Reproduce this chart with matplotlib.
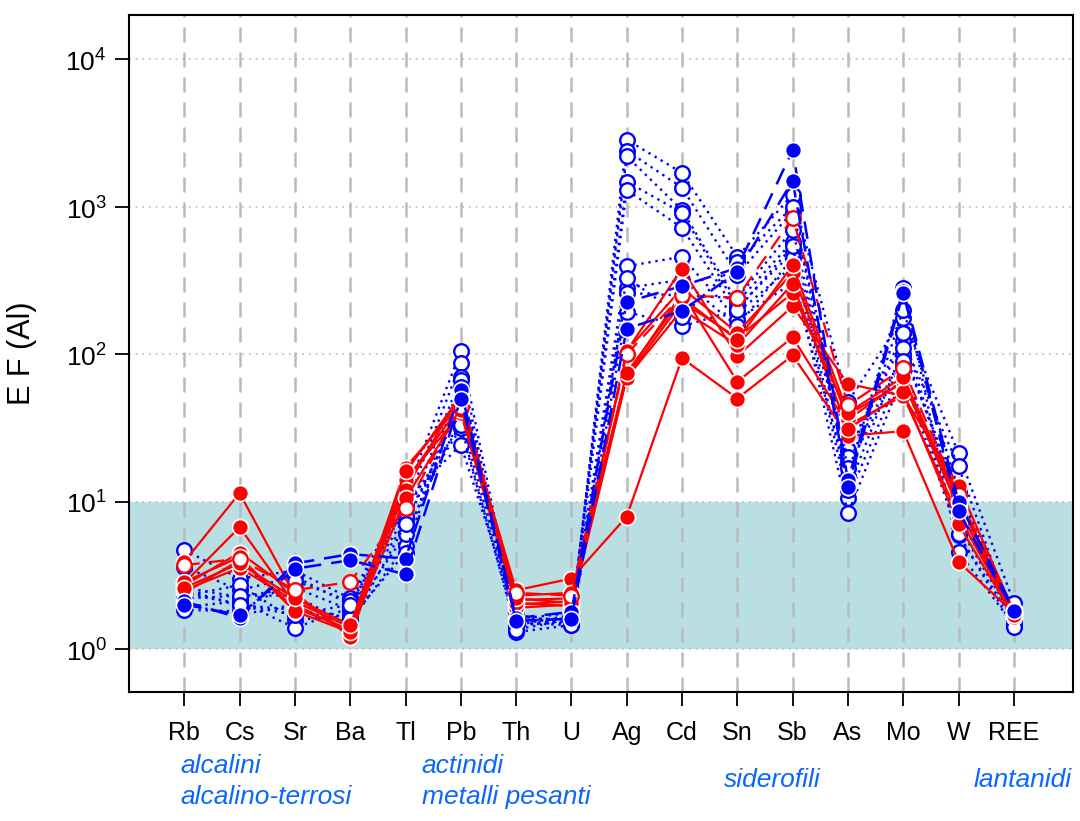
import numpy as np
import matplotlib; matplotlib.use("Agg"); import matplotlib.pyplot as plt

plt.rcParams['font.family'] = ['Liberation Sans', 'DejaVu Sans']
plt.rcParams['mathtext.fontset'] = 'custom'
plt.rcParams['mathtext.rm'] = 'Liberation Sans'

elements = ["Rb", "Cs", "Sr", "Ba", "Tl", "Pb", "Th", "U", "Ag", "Cd", "Sn", "Sb", "As", "Mo", "W", "REE"]

# red series (filled markers, solid lines)
red_solid = [
    [3.9, 11.4, 2.3, 1.25, 17.0, 46, 2.5, 3.0, 7.9, 94, 50, 98, 28, 30, 3.9, 1.75],
    [2.8, 6.7, 2.0, 1.3, 15.9, 52, 2.3, 2.4, 72, 260, 65, 130, 33, 52, 8.0, 1.7],
    [2.7, 4.5, 2.4, 1.2, 13.8, 45, 2.15, 2.2, 105, 380, 97, 211, 63, 52, 12.8, 1.8],
    [2.4, 4.0, 1.9, 1.35, 14.0, 40, 2.0, 2.1, 70, 226, 129, 260, 39, 64, 10.0, 1.75],
    [2.5, 3.55, 2.1, 1.4, 12.0, 55, 1.9, 2.0, 105, 280, 140, 355, 36, 66, 9.0, 1.7],
    [2.85, 4.2, 1.8, 1.3, 10.5, 42, 2.05, 1.95, 69, 200, 115, 300, 31, 55, 7.0, 1.65],
    [2.6, 3.8, 2.2, 1.45, 16.0, 50, 2.2, 2.05, 75, 240, 125, 400, 40, 70, 10.5, 1.7],
]
# red series with open marker, dashed line
red_dashed = [
    [3.7, 4.1, 2.5, 2.85, 9.0, 44, 2.4, 2.3, 100, 250, 242, 840, 45, 80, 11.0, 1.8],
]
# blue open markers, dotted lines
blue_open = [
    [4.7, 3.0, 3.4, 2.2, 11.1, 105, 1.5, 1.5, 2850, 1700, 458, 1210, 47.5, 176, 21.2, 2.06],
    [3.6, 2.5, 3.1, 2.0, 9.2, 87, 1.3, 1.45, 2400, 1350, 346, 927, 22.4, 122, 17.4, 1.5],
    [2.6, 2.25, 2.6, 1.84, 7.3, 70, 1.6, 1.6, 2200, 950, 226, 580, 18.4, 100, 11.8, 1.43],
    [2.5, 1.99, 1.84, 1.52, 5.0, 67, 1.45, 1.7, 1480, 910, 208, 490, 10.5, 83, 6.8, 1.6],
    [2.3, 2.7, 1.57, 1.7, 6.0, 37, 1.55, 1.55, 1300, 720, 191, 395, 8.3, 72, 5.9, 1.55],
    [1.93, 2.1, 1.39, 1.9, 8.0, 31.6, 1.4, 1.65, 395, 458, 171, 305, 15, 280, 4.57, 1.45],
    [1.84, 1.8, 2.9, 2.1, 10.0, 24.3, 1.7, 1.5, 281, 320, 154, 450, 20, 140, 8.0, 1.7],
    [2.0, 1.7, 2.0, 1.6, 4.5, 60, 1.5, 1.45, 194, 154, 200, 540, 12, 110, 10.0, 1.5],
    [2.2, 2.3, 2.3, 1.45, 7.0, 45, 1.6, 1.75, 260, 250, 240, 700, 17, 90, 6.0, 1.4],
    [2.4, 2.0, 1.7, 2.0, 9.0, 33, 1.35, 1.6, 330, 180, 420, 1000, 14, 200, 12.0, 1.65],
]
# blue filled markers, dashed lines
blue_filled = [
    [2.1, 1.62, 3.8, 4.4, 4.1, 57, 1.62, 1.78, 226, 290, 385, 2420, 13.9, 270, 10.0, 1.85],
    [2.0, 1.7, 3.5, 4.0, 3.2, 50, 1.55, 1.6, 149, 197, 360, 1500, 12.5, 260, 8.6, 1.8],
]
group_labels = ["alcalini", "alcalino-terrosi", "actinidi", "metalli pesanti", "siderofili", "lantanidi"]
group_x = [-0.07, -0.07, 4.29, 4.29, 9.75, 14.27]
group_y = [-0.109, -0.155, -0.109, -0.155, -0.130, -0.130]

RED = "#ff0000"; BLUE = "#0000ff"
x = np.arange(len(elements))

fig = plt.figure(figsize=(10.8, 8.21), dpi=100)
ax = fig.add_axes([129/1080, 1-692/821, (1073-129)/1080, (692-15)/821])
ax.set_yscale("log")
ax.set_xlim(-1, 16.07)
ax.set_ylim(0.51, 2.0e4)
ax.axhspan(1, 10, color="#b9dfe3", zorder=0, lw=0)
for d in range(5):
    ax.axhline(10**d, color="#bbbbbb", ls=(0, (1, 3)), lw=1.2, zorder=0.5)
for xi in x:
    ax.axvline(xi, color="#bbbbbb", ls=(0, (6, 4)), lw=1.8, zorder=0.5)

ms = 10.5
for s in blue_open:
    ax.plot(x, s, color=BLUE, ls=(0, (1, 2)), lw=1.7, marker="o", ms=ms, mfc="white", mec=BLUE, mew=1.7, zorder=3)
for s in red_solid:
    ax.plot(x, s, color=RED, ls="-", lw=1.6, marker="o", ms=ms + 1, mfc=RED, mec="white", mew=1.2, zorder=4)
for s in red_dashed:
    ax.plot(x, s, color=RED, ls=(0, (7, 4)), lw=1.6, marker="o", ms=ms, mfc="white", mec=RED, mew=1.7, zorder=4)
for s in blue_filled:
    ax.plot(x, s, color=BLUE, ls=(0, (7, 4)), lw=1.8, marker="o", ms=ms + 1, mfc=BLUE, mec="white", mew=1.2, zorder=5)

ax.set_xticks(x)
ax.set_xticklabels(elements, fontsize=18)
ax.set_yticks([1, 10, 100, 1000, 10000])
ax.set_yticklabels([r"$10^{%d}$" % d for d in range(5)], fontsize=19)
ax.minorticks_off()
ax.tick_params(axis="x", direction="out", length=10, width=1.3, pad=11)
ax.tick_params(axis="y", direction="out", length=10, width=1.3, pad=6)
for sp in ax.spines.values():
    sp.set_linewidth(1.5)
ax.set_ylabel("E F (Al)", fontsize=22)
ax.yaxis.set_label_coords(-0.097, 0.5)

for txt, xp, yp in zip(group_labels, group_x, group_y):
    ax.text(xp, yp, txt, transform=ax.get_xaxis_transform(),
            ha="left", va="center", fontsize=19, style="italic", color="#0a66ff")

fig.savefig("out.png", dpi=100)
